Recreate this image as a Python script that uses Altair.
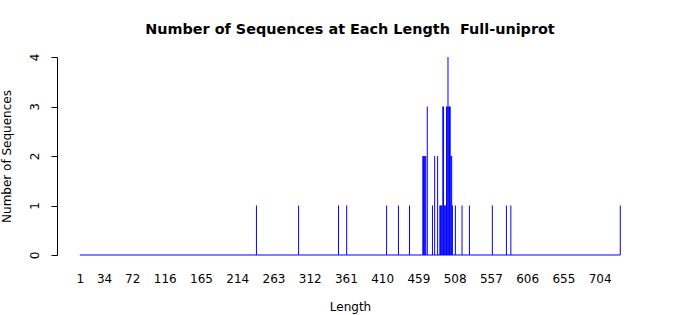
import altair as alt
import pandas as pd

# Sequence lengths and the number of sequences at each length
lengths = [240, 297, 351, 362, 416, 432, 447,
           465, 466, 467, 468, 469, 471, 478, 481, 485,
           488, 489, 490, 491, 492, 493, 494, 495, 496, 497, 498, 499,
           500, 501, 502, 503, 504, 505,
           509, 518, 528, 559, 578, 584, 732]
counts = [1, 1, 1, 1, 1, 1, 1,
          2, 2, 2, 2, 2, 3, 1, 2, 2,
          1, 1, 1, 1, 3, 3, 1, 1, 1, 3, 3, 4,
          3, 3, 3, 2, 2, 1,
          1, 1, 1, 1, 1, 1, 1]

x_ticks = [1, 34, 72, 116, 165, 214, 263, 312, 361, 410, 459, 508, 557, 606, 655, 704]
y_ticks = [0, 1, 2, 3, 4]
length_range = [1, 732]

df = pd.DataFrame({"Length": lengths, "Count": counts})
base_df = pd.DataFrame({"Length": [length_range[0]], "end": [length_range[1]], "Count": [0]})

FONT = "DejaVu Sans"
BLUE = "#0000ff"

xscale = alt.Scale(domain=[-29.7, 762.7], nice=False, zero=False)
yscale = alt.Scale(domain=[0, 4], nice=False)

xaxis = alt.Axis(values=x_ticks, title="Length", domain=False, ticks=False,
                 grid=False, labelFont=FONT, labelFontSize=12, labelColor="black",
                 labelPadding=18, titleFont=FONT, titleFontSize=12,
                 titleFontWeight="normal", titleColor="black", titlePadding=17,
                 labelFlush=False, labelOverlap=False, labelBound=False)
yaxis = alt.Axis(values=y_ticks, title="Number of Sequences", grid=False,
                 domainColor="black", tickColor="black", tickSize=6,
                 labelAngle=270, labelAlign="center", labelBaseline="bottom",
                 labelFont=FONT, labelFontSize=12, labelColor="black",
                 labelPadding=10, titleFont=FONT, titleFontSize=12,
                 titleFontWeight="normal", titleColor="black", titlePadding=15,
                 labelFlush=False, labelOverlap=False)

bars = alt.Chart(df).mark_rule(color=BLUE, strokeWidth=1).encode(
    x=alt.X("Length:Q", scale=xscale, axis=xaxis),
    y=alt.Y("Count:Q", scale=yscale, axis=yaxis),
    y2=alt.datum(0),
)

baseline = alt.Chart(base_df).mark_rule(color=BLUE, strokeWidth=1).encode(
    x=alt.X("Length:Q", scale=xscale, axis=xaxis),
    x2="end:Q",
    y=alt.Y("Count:Q", scale=yscale, axis=yaxis),
)

chart = alt.layer(bars, baseline).properties(
    width=586,
    height=198,
    title=alt.TitleParams("Number of Sequences at Each Length\u00a0 Full-uniprot",
                          font=FONT, fontSize=14.4, fontWeight="bold", color="black",
                          anchor="middle", offset=16),
    autosize=alt.AutoSizeParams(type="none"),
    padding={"left": 57, "top": 57, "right": 57, "bottom": 60},
).configure_view(stroke=None)

chart.save("out.html", embed_options={"renderer": "svg", "actions": False})
